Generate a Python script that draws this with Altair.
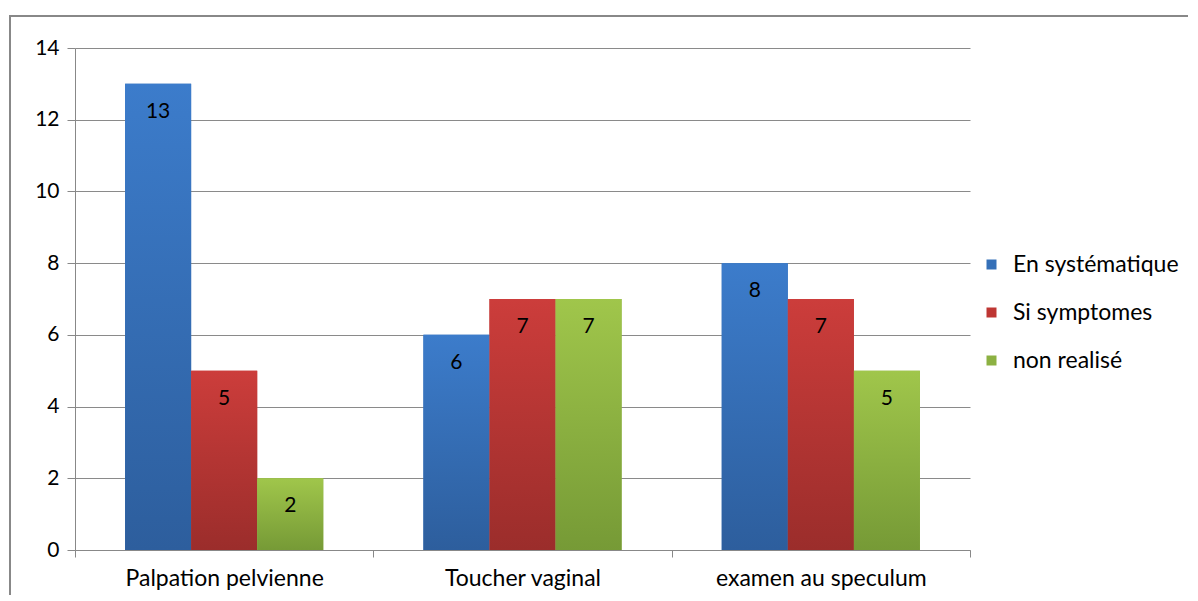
import altair as alt
import pandas as pd

categories = ["Palpation pelvienne", "Toucher vaginal", "examen au speculum"]
series = ["En systématique", "Si symptomes", "non realisé"]
values_systematique = [13, 6, 8]
values_symptomes = [5, 7, 7]
values_non_realise = [2, 7, 5]
y_ticks = [0, 2, 4, 6, 8, 10, 12, 14]

rows = []
for s, vals in zip(series, [values_systematique, values_symptomes, values_non_realise]):
    for c, v in zip(categories, vals):
        rows.append({"cat": c, "series": s, "value": v})
df = pd.DataFrame(rows)

top_colors = ["#3c7ccb", "#cc3d3b", "#a0c64b"]
bottom_colors = ["#2d5e9d", "#9b2d2b", "#769a36"]
legend_colors = ["#3570b8", "#be3633", "#8cb142"]

FONT = "Lato"
W, H = 895, 502

x_enc = alt.X(
    "cat:N",
    sort=categories,
    scale=alt.Scale(paddingInner=0, paddingOuter=0),
    axis=alt.Axis(
        title=None, labelAngle=0, tickBand="extent", tickSize=7,
        labelPadding=10, labelFontSize=23, labelFont=FONT, labelColor="#000000",
        labelLimit=0, domainColor="#888888", tickColor="#888888", grid=False,
    ),
)
xoff_enc = alt.XOffset(
    "series:N", sort=series,
    scale=alt.Scale(domain=series, paddingInner=0, paddingOuter=0.758),
)
y_enc = alt.Y(
    "value:Q",
    scale=alt.Scale(domain=[0, 14], nice=False),
    axis=alt.Axis(
        title=None, values=y_ticks, tickSize=8, labelPadding=8,
        labelFontSize=21, labelFont=FONT, labelColor="#000000",
        domainColor="#888888", tickColor="#888888",
        grid=True, gridColor="#8a8a8a", gridWidth=1,
    ),
)

base = alt.Chart(df)

solid = base.mark_bar().encode(
    x=x_enc, xOffset=xoff_enc, y=y_enc,
    color=alt.Color(
        "series:N",
        scale=alt.Scale(domain=series, range=legend_colors),
        legend=alt.Legend(
            title=None, orient="none", legendX=905, legendY=205,
            symbolType="square", symbolSize=100, symbolStrokeWidth=0,
            labelFontSize=23, labelFont=FONT, labelColor="#000000",
            rowPadding=24, labelOffset=10, labelLimit=0,
        ),
    ),
)

grad_layers = []
for s, tc, bc in zip(series, top_colors, bottom_colors):
    grad_layers.append(
        base.transform_filter(alt.datum.series == s).mark_bar(
            fill=alt.Gradient(
                gradient="linear",
                stops=[alt.GradientStop(color=tc, offset=0), alt.GradientStop(color=bc, offset=1)],
                x1=0, x2=0, y1=0, y2=1,
            )
        ).encode(x=x_enc, xOffset=xoff_enc, y=y_enc)
    )

labels = base.mark_text(
    baseline="middle", dy=28, fontSize=21, font=FONT, color="#000000"
).encode(x=x_enc, xOffset=xoff_enc, y=y_enc, text="value:Q")

border = alt.Chart(pd.DataFrame({"a": [0]})).mark_rect(
    fillOpacity=0, stroke="#888888", strokeWidth=2
).encode(
    x=alt.value(-65), x2=alt.value(1400), y=alt.value(-32), y2=alt.value(900)
)

chart = alt.layer(border, solid, *grad_layers, labels).properties(
    width=W, height=H,
    autosize=alt.AutoSizeParams(type="none"),
    padding={"left": 67, "top": 40, "right": 218, "bottom": 45},
).configure_view(stroke=None)

chart.save("out.html", embed_options={"renderer": "svg", "actions": False})
